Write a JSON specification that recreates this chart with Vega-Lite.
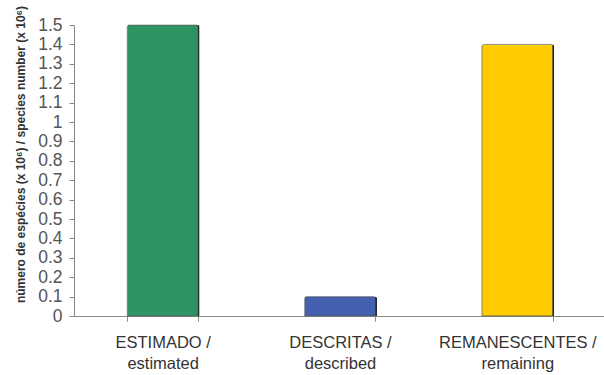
{
  "$schema": "https://vega.github.io/schema/vega-lite/v6.json",
  "autosize": {"type": "none"},
  "padding": {"left": 74, "top": 25, "right": 0, "bottom": 59},
  "width": 532,
  "height": 291,
  "background": "white",
  "config": {"view": {"stroke": null}},
  "data": {"values": [
    {"cat": "ESTIMADO /|estimated", "value": 1.5, "color": "#2E9464"},
    {"cat": "DESCRITAS /|described", "value": 0.1, "color": "#4361B0"},
    {"cat": "REMANESCENTES /|remaining", "value": 1.4, "color": "#FFCC00"}
  ]},
  "encoding": {
    "x": {"field": "cat", "type": "nominal", "sort": null,
      "scale": {"paddingInner": 0.6, "paddingOuter": 0.3},
      "axis": {"title": null, "labelAngle": 0, "labelExpr": "split(datum.label, '|')",
        "labelFont": "Liberation Sans", "labelFontSize": 16.5, "labelColor": "#333", "labelLineHeight": 21,
        "labelPadding": 13, "domainColor": "#888", "tickColor": "#888", "tickBand": "extent", "tickSize": 5}},
    "y": {"field": "value", "type": "quantitative",
      "scale": {"domain": [0, 1.5], "nice": false},
      "axis": {"values": [0,0.1,0.2,0.3,0.4,0.5,0.6,0.7,0.8,0.9,1,1.1,1.2,1.3,1.4,1.5],
        "format": ".1~f",
        "grid": false, "domainColor": "#888", "tickColor": "#888", "tickSize": 5,
        "labelFont": "Liberation Sans", "labelFontSize": 17.5, "labelColor": "#555", "labelPadding": 7,
        "title": "número de espécies (x 10⁶) /  species number (x 10⁶)",
        "titleFont": "Liberation Sans", "titleFontSize": 12, "titleFontWeight": "bold", "titleColor": "#333",
        "titleAngle": -90, "titleX": -54, "titleY": 129, "titleAlign": "center", "titleBaseline": "middle"}}
  },
  "layer": [
    {"mark": {"type": "bar", "color": "#1a1a1a", "xOffset": 1.5, "cornerRadiusTopRight": 2, "cornerRadiusTopLeft": 2}},
    {"mark": {"type": "bar", "cornerRadiusTopLeft": 2, "cornerRadiusTopRight": 2, "stroke": "#555", "strokeWidth": 0.5},
     "encoding": {"color": {"field": "color", "type": "nominal", "scale": null}}}
  ]
}
